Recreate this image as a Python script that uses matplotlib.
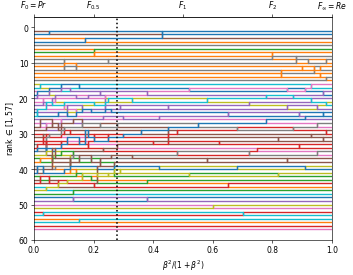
import matplotlib
matplotlib.use("Agg")
import matplotlib.pyplot as plt

# colour (tab10 index) of the item sitting at each rank at x = 0
start_colors = [5, 0, 1, 0, 7, 1, 2, 1, 7, 7, 1, 7, 1, 1, 7, 8, 9, 6, 0, 4,
                6, 4, 4, 0, 9, 4, 6, 5, 5, 3, 5, 3, 7, 3, 0, 8, 2, 1, 7, 5,
                0, 2, 5, 3, 9, 8, 2, 0, 4, 6, 8, 3, 9, 1, 9, 3, 6]

# rank changes: (x, old rank, new rank)
moves_top = [
    (0.05, 1, 2), (0.10, 9, 12), (0.14, 12, 10), (0.17, 4, 3),
    (0.20, 6, 8), (0.25, 9, 10), (0.43, 3, 1), (0.80, 7, 9),
    (0.83, 14, 12), (0.88, 10, 8), (0.90, 12, 11), (0.92, 9, 10),
    (0.94, 13, 11), (0.96, 11, 12), (0.96, 14, 13), (0.98, 10, 9),
    (0.98, 15, 14),
]
moves_mid_left = [
    (0.01, 18, 20), (0.01, 25, 23), (0.01, 33, 35), (0.01, 41, 39),
    (0.02, 16, 17), (0.02, 28, 26), (0.02, 37, 38), (0.02, 44, 42),
    (0.03, 20, 22), (0.03, 30, 33), (0.03, 39, 41),
    (0.04, 23, 21), (0.04, 27, 29), (0.04, 35, 32), (0.04, 45, 46),
    (0.04, 30, 36),
    (0.05, 17, 19), (0.05, 31, 30), (0.05, 42, 44),
    (0.06, 22, 20), (0.06, 26, 28), (0.06, 38, 36), (0.06, 40, 34),
    (0.07, 19, 21), (0.07, 34, 37), (0.07, 40, 39),
    (0.08, 24, 25), (0.08, 29, 27), (0.08, 43, 45),
    (0.09, 16, 18), (0.09, 32, 34), (0.09, 36, 35), (0.09, 26, 31),
    (0.10, 21, 23), (0.10, 28, 30), (0.10, 41, 40),
    (0.11, 25, 22), (0.11, 33, 31), (0.11, 44, 43),
    (0.12, 18, 17), (0.12, 37, 39), (0.12, 30, 29), (0.12, 36, 41),
    (0.13, 27, 26), (0.13, 35, 37), (0.13, 46, 47),
    (0.14, 20, 19), (0.14, 23, 25), (0.14, 40, 42),
    (0.15, 31, 33), (0.15, 38, 36), (0.15, 17, 16),
    (0.16, 26, 28), (0.16, 43, 41), (0.16, 22, 24),
    (0.17, 33, 29),
    (0.18, 19, 20), (0.18, 34, 32), (0.18, 29, 31),
    (0.19, 36, 38), (0.19, 24, 23), (0.19, 42, 43),
    (0.20, 21, 22), (0.20, 32, 30), (0.20, 45, 44),
    (0.21, 44, 39),
    (0.22, 28, 27), (0.22, 39, 37), (0.22, 18, 19),
    (0.23, 25, 26), (0.23, 35, 34),
    (0.24, 19, 24),
    (0.25, 30, 32), (0.25, 41, 42), (0.25, 20, 21),
    (0.26, 23, 24), (0.26, 37, 36),
    (0.27, 38, 42),
    (0.28, 33, 34), (0.28, 27, 28),
    (0.29, 40, 41), (0.29, 22, 23),
    (0.30, 31, 30), (0.30, 26, 25),
]
moves_mid_right = [
    (0.33, 21, 20), (0.33, 36, 37), (0.36, 29, 30), (0.38, 18, 19),
    (0.38, 43, 44), (0.40, 33, 32), (0.42, 25, 26), (0.42, 39, 40),
    (0.45, 23, 22), (0.45, 28, 33), (0.48, 35, 36), (0.48, 30, 29),
    (0.52, 17, 18), (0.52, 42, 41), (0.55, 27, 28), (0.58, 38, 37),
    (0.58, 20, 21), (0.62, 32, 33), (0.65, 24, 25), (0.65, 44, 45),
    (0.68, 29, 28), (0.68, 40, 39), (0.72, 21, 22), (0.72, 36, 35),
    (0.75, 34, 35), (0.78, 19, 20), (0.78, 26, 27), (0.82, 31, 32),
    (0.82, 41, 42), (0.85, 17, 18), (0.85, 22, 23), (0.85, 37, 38),
    (0.87, 20, 19), (0.87, 28, 29), (0.89, 24, 25), (0.89, 33, 34),
    (0.91, 18, 17), (0.91, 26, 25), (0.91, 39, 40), (0.93, 21, 20),
    (0.93, 30, 31), (0.93, 16, 17), (0.95, 23, 22), (0.95, 27, 28),
    (0.95, 35, 36), (0.97, 19, 18), (0.97, 25, 24), (0.97, 32, 31),
    (0.98, 22, 21), (0.98, 29, 30),
]
moves_bottom = [
    (0.03, 52, 53), (0.13, 48, 49), (0.15, 54, 55), (0.38, 49, 48),
    (0.60, 50, 51), (0.70, 53, 52),
]

moves = sorted(moves_top + moves_mid_left + moves_mid_right + moves_bottom,
               key=lambda m: m[0])

n_items = len(start_colors)
order = list(range(n_items))          # order[r] = item at rank r + 1
xs = [0.0]
snapshots = [list(order)]
for x, r_from, r_to in moves:
    item = order.pop(r_from - 1)
    order.insert(r_to - 1, item)
    xs.append(x)
    snapshots.append(list(order))
xs.append(1.0)
snapshots.append(list(order))

# drawn at default 6.4in width, then small dpi -> 354 x 276 px
fig = plt.figure(figsize=(6.4, 4.99), dpi=55.3)
ax = fig.add_axes([0.096, 0.127, 0.842, 0.809])

for item in range(n_items):
    ranks = [snap.index(item) + 1 for snap in snapshots]
    ax.step(xs, ranks, where='post', color=f"C{start_colors[item]}", lw=1.8)

ax.axvline(0.28, color='black', ls=':', lw=2)

ax.set_xlim(0, 1)
ax.set_ylim(60, -3)
ax.set_yticks([0, 10, 20, 30, 40, 50, 60])
ax.set_xlabel(r'$\beta^2/(1+\beta^2)$')
ax.set_ylabel(r'rank $\in [1, 57]$')

top = ax.secondary_xaxis('top')
top.set_xticks([0, 0.2, 0.5, 0.8, 1.0])
top.set_xticklabels([r'$F_0 = Pr$', r'$F_{0.5}$', r'$F_1$', r'$F_2$',
                     r'$F_\infty = Re$'])

fig.savefig('out.png', dpi=55.3)
